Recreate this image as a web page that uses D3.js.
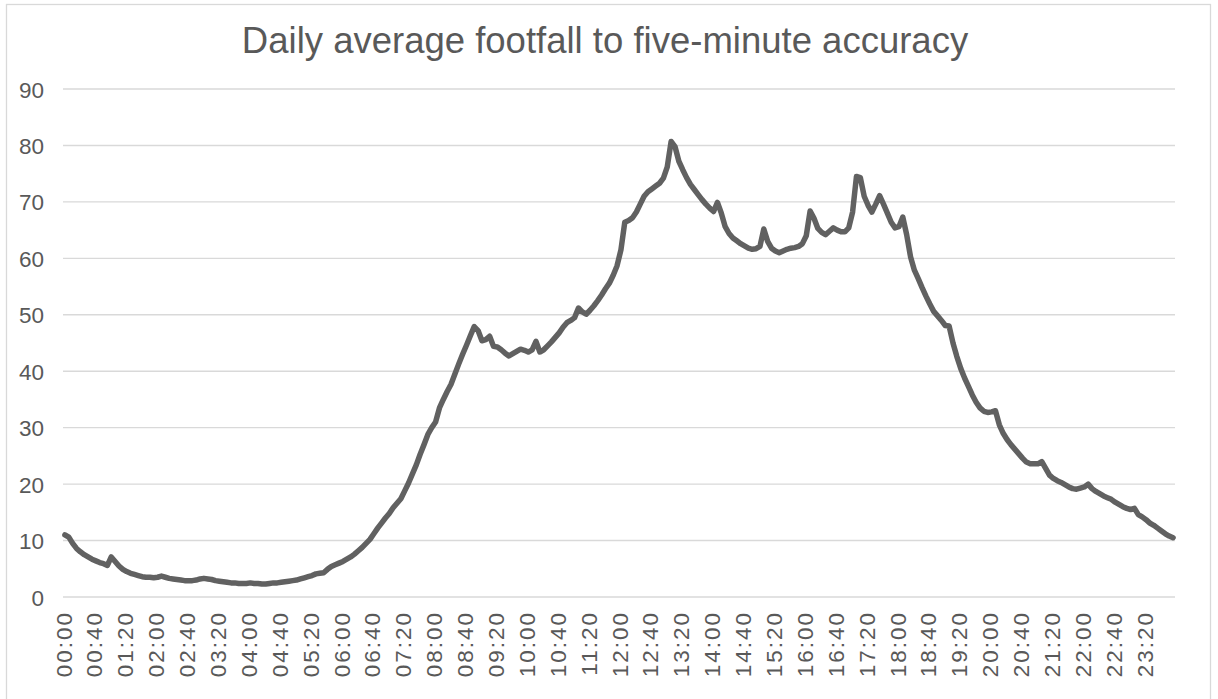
<!DOCTYPE html>
<html>
<head>
<meta charset="utf-8">
<script src="https://cdn.jsdelivr.net/npm/d3@7"></script>
<style>
  html, body { margin: 0; padding: 0; background: #fff; }
  svg { display: block; font-family: "Liberation Sans", Arial, Helvetica, sans-serif; }
</style>
</head>
<body>
<svg id="chart" width="1218" height="699"></svg>
<script>
// Average footfall per five-minute slot, 00:00 through 23:55
const footfall = [
  11.0, 10.6, 9.5, 8.6, 8.0, 7.5, 7.1, 6.7, 6.4, 6.1, 5.9, 5.6,
  7.1, 6.3, 5.5, 4.9, 4.5, 4.2, 4.0, 3.8, 3.6, 3.5, 3.5, 3.4,
  3.5, 3.7, 3.5, 3.3, 3.2, 3.1, 3.0, 2.9, 2.9, 2.9, 3.0, 3.2,
  3.3, 3.2, 3.1, 2.9, 2.8, 2.7, 2.6, 2.5, 2.5, 2.4, 2.4, 2.4,
  2.5, 2.4, 2.4, 2.3, 2.3, 2.4, 2.5, 2.5, 2.6, 2.7, 2.8, 2.9,
  3.0, 3.2, 3.4, 3.6, 3.8, 4.1, 4.2, 4.3, 4.9, 5.4, 5.7, 6.0,
  6.3, 6.7, 7.1, 7.6, 8.2, 8.8, 9.5, 10.2, 11.2, 12.2, 13.1, 14.0,
  14.8, 15.8, 16.6, 17.4, 18.8, 20.2, 21.8, 23.4, 25.3, 27.0, 28.8, 30.0,
  31.0, 33.5, 35.0, 36.4, 37.7, 39.5, 41.3, 43.0, 44.6, 46.3, 47.9, 47.2,
  45.4, 45.6, 46.2, 44.4, 44.3, 43.8, 43.2, 42.7, 43.1, 43.5, 43.9, 43.7,
  43.4, 43.8, 45.3, 43.4, 43.8, 44.5, 45.2, 46.0, 46.8, 47.8, 48.6, 49.0,
  49.5, 51.2, 50.5, 50.1, 50.8, 51.6, 52.5, 53.5, 54.6, 55.6, 57.0, 58.7,
  61.5, 66.4, 66.7, 67.2, 68.2, 69.6, 71.0, 71.8, 72.3, 72.8, 73.3, 74.2,
  76.2, 80.7, 79.8, 77.2, 75.7, 74.3, 73.1, 72.2, 71.3, 70.4, 69.6, 68.9,
  68.3, 69.9, 68.0, 65.6, 64.4, 63.6, 63.1, 62.6, 62.2, 61.8, 61.6, 61.7,
  62.1, 65.2, 63.0, 61.8, 61.3, 61.0, 61.3, 61.6, 61.8, 61.9, 62.1, 62.6,
  64.0, 68.4, 67.1, 65.3, 64.6, 64.2, 64.8, 65.4, 65.0, 64.7, 64.7, 65.4,
  68.2, 74.5, 74.3, 71.0, 69.4, 68.2, 69.6, 71.1, 69.6, 68.0, 66.4, 65.4,
  65.6, 67.3, 64.2, 60.3, 57.9, 56.4, 54.8, 53.3, 51.9, 50.6, 49.8, 49.0,
  48.1, 48.0, 45.0, 42.6, 40.5, 38.8, 37.3, 35.8, 34.5, 33.5, 32.9, 32.7,
  32.8, 33.0, 30.5, 29.0, 27.9, 27.0, 26.2, 25.4, 24.6, 23.9, 23.6, 23.6,
  23.6, 24.0, 22.8, 21.6, 21.0, 20.6, 20.3, 19.9, 19.5, 19.2, 19.1, 19.3,
  19.5, 20.0, 19.2, 18.7, 18.3, 17.9, 17.6, 17.3, 16.8, 16.4, 16.0, 15.7,
  15.5, 15.7, 14.6, 14.2, 13.7, 13.1, 12.7, 12.2, 11.7, 11.2, 10.8, 10.5
];

// Time-of-day categories, one per five-minute slot
const timeSlots = footfall.map((_, i) => {
  const m = i * 5;
  return String(Math.floor(m / 60)).padStart(2, "0") + ":" + String(m % 60).padStart(2, "0");
});

// Axis labels shown every 40 minutes
const xTickLabels = timeSlots.filter((_, i) => i % 8 === 0);
const yTicks = [0, 10, 20, 30, 40, 50, 60, 70, 80, 90];
const chartTitle = "Daily average footfall to five-minute accuracy";

const svg = d3.select("#chart");
const textColor = "#595959";

// Outer chart border
svg.append("rect")
  .attr("x", 6.5).attr("y", 4.5)
  .attr("width", 1204).attr("height", 700)
  .attr("fill", "#fff")
  .attr("stroke", "#d9d9d9")
  .attr("stroke-width", 1.3);

const plot = { left: 63, right: 1175, top: 89, bottom: 597 };

const x = d3.scalePoint()
  .domain(timeSlots)
  .range([plot.left, plot.right])
  .padding(0.5);

const y = d3.scaleLinear()
  .domain([0, 90])
  .range([plot.bottom, plot.top]);

// Horizontal gridlines
svg.append("g")
  .selectAll("line")
  .data(yTicks)
  .join("line")
  .attr("x1", plot.left).attr("x2", plot.right)
  .attr("y1", d => y(d)).attr("y2", d => y(d))
  .attr("stroke", "#d9d9d9")
  .attr("stroke-width", 1.4);

// Y axis labels
const yAxis = svg.append("g")
  .attr("transform", `translate(${plot.left - 19},0)`)
  .call(d3.axisLeft(y).tickValues(yTicks).tickSize(0).tickPadding(0));
yAxis.select(".domain").remove();
yAxis.selectAll("text")
  .attr("fill", textColor)
  .style("font-size", "22.5px")
  .attr("text-anchor", "end")
  .attr("dy", "0.36em");

// X axis labels, rotated
const xAxis = svg.append("g")
  .attr("transform", `translate(0,${plot.bottom})`)
  .call(d3.axisBottom(x).tickValues(xTickLabels).tickSize(0).tickPadding(0));
xAxis.select(".domain").remove();
xAxis.selectAll(".tick text")
  .attr("fill", textColor)
  .style("font-size", "22.5px")
  .style("letter-spacing", "2px")
  .attr("text-anchor", "end")
  .attr("transform", "translate(-2,14) rotate(-90)")
  .attr("x", 0)
  .attr("y", 0)
  .attr("dy", "0.36em");

// Footfall line
const line = d3.line()
  .x((d, i) => x(timeSlots[i]))
  .y(d => y(d));

svg.append("path")
  .datum(footfall)
  .attr("d", line)
  .attr("fill", "none")
  .attr("stroke", "#616161")
  .attr("stroke-width", 5.5)
  .attr("stroke-linejoin", "round")
  .attr("stroke-linecap", "round");

// Title
svg.append("text")
  .attr("x", 605)
  .attr("y", 53)
  .attr("text-anchor", "middle")
  .attr("fill", textColor)
  .style("font-size", "36.5px")
  .text(chartTitle);
</script>
</body>
</html>
